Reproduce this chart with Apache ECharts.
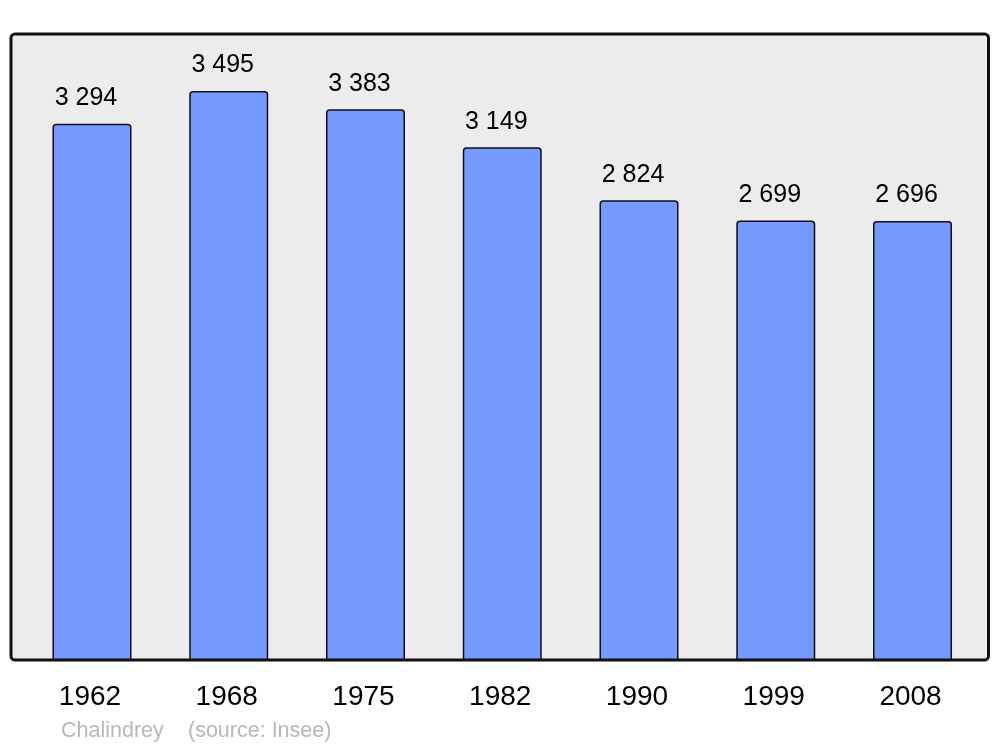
<!DOCTYPE html>
<html>
<head>
<meta charset="utf-8">
<script src="https://cdn.jsdelivr.net/npm/echarts@6/dist/echarts.min.js"></script>
<style>html,body{margin:0;padding:0;background:#fff;}#c{width:1000px;height:747px;}</style>
</head>
<body>
<div id="c"></div>
<script>
const years = ['1962', '1968', '1975', '1982', '1990', '1999', '2008'];
const population = [3294, 3495, 3383, 3149, 2824, 2699, 2696];
const townName = 'Chalindrey';
const sourceText = '(source: Insee)';

function fmt(v) {
  return String(v).replace(/\B(?=(\d{3})+(?!\d))/g, ' ');
}

const chart = echarts.init(document.getElementById('c'), null, {renderer: 'canvas'});
chart.setOption({
  animation: false,
  backgroundColor: '#ffffff',
  graphic: [
    {
      type: 'rect',
      z: -10,
      silent: true,
      shape: {x: 11, y: 34, width: 977.5, height: 626, r: 4},
      style: {fill: '#ececec', stroke: '#111111', lineWidth: 3}
    },
    {
      type: 'text',
      left: 61, top: 720,
      style: {text: townName, fill: '#b8b8b8', font: '21.5px "Liberation Sans", Arial, sans-serif'}
    },
    {
      type: 'text',
      left: 188, top: 720,
      style: {text: sourceText, fill: '#b8b8b8', font: '21.5px "Liberation Sans", Arial, sans-serif'}
    }
  ],
  grid: {left: 23.6, right: 19.1, top: 34, bottom: 87, containLabel: false},
  xAxis: {
    type: 'category',
    data: years,
    axisLine: {show: false},
    axisTick: {show: false},
    axisLabel: {
      color: '#000',
      fontSize: 28,
      fontFamily: '"Liberation Sans", Arial, sans-serif',
      margin: 23,
      padding: [0, 4, 0, 0]
    }
  },
  yAxis: {
    type: 'value',
    min: 0,
    max: 3845,
    show: false,
    splitLine: {show: false}
  },
  series: [{
    type: 'bar',
    data: population,
    barWidth: 79,
    itemStyle: {
      color: '#7499ff',
      borderColor: '#111111',
      borderWidth: 1.5,
      borderRadius: [3, 3, 0, 0]
    },
    label: {
      show: true,
      position: 'top',
      distance: 13,
      offset: [-6, 0],
      color: '#000',
      fontSize: 25,
      fontFamily: '"Liberation Sans", Arial, sans-serif',
      formatter: p => fmt(p.value)
    }
  }]
});
</script>
</body>
</html>
